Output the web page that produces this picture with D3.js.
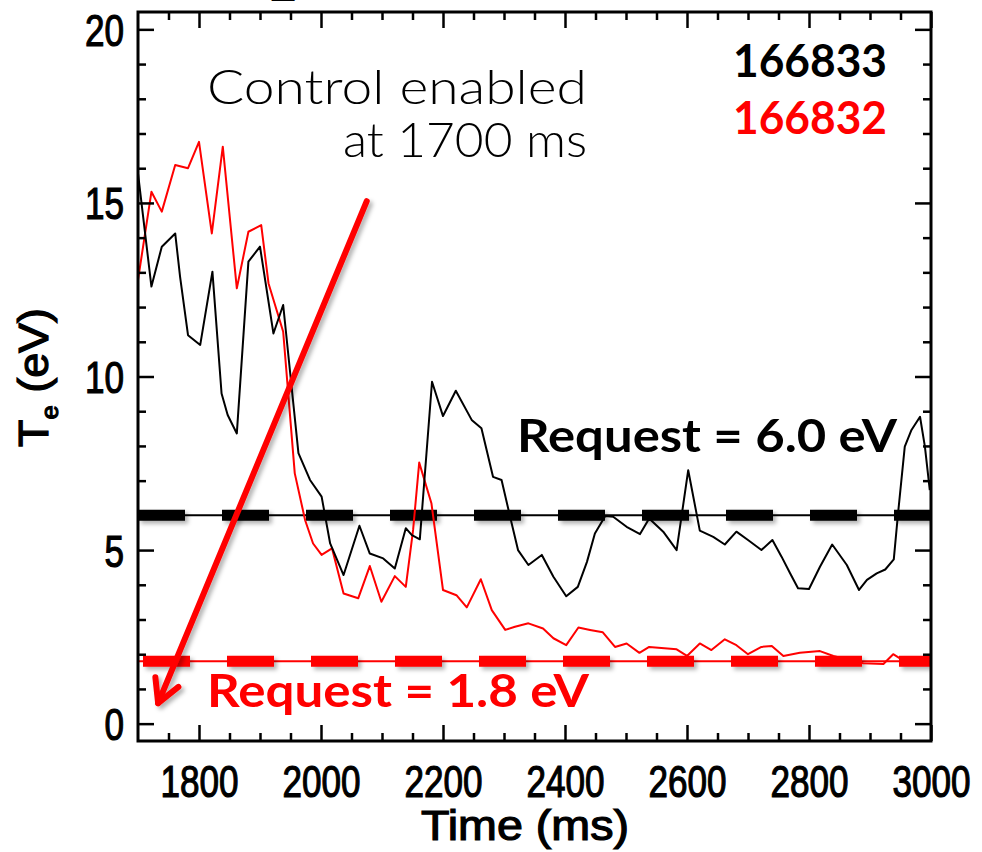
<!DOCTYPE html>
<html>
<head>
<meta charset="utf-8">
<script src="https://cdn.jsdelivr.net/npm/d3@7"></script>
<style>
  body { margin: 0; background: #fff; }
  svg { display: block; }
</style>
</head>
<body>
<svg id="chart" width="982" height="852"></svg>
<script>
// Te traces for the two shots (time in ms, Te in eV)
const shot166833 = [
  [1700, 15.85], [1722, 12.59], [1739, 13.74], [1761, 14.12], [1769, 12.87], [1782, 11.19],
  [1802, 10.91], [1822, 13.02], [1837, 9.51], [1847, 8.89], [1862, 8.36], [1881, 13.31],
  [1900, 13.74], [1922, 11.24], [1938, 12.06], [1963, 7.79], [1982, 7.02], [2001, 6.54],
  [2015, 5.19], [2037, 4.28], [2063, 5.70], [2080, 4.90], [2102, 4.76], [2121, 4.47],
  [2139, 5.63], [2149, 5.43], [2162, 5.31], [2182, 9.85], [2200, 8.86], [2221, 9.59],
  [2247, 8.75], [2263, 8.51], [2282, 7.11], [2296, 7.02], [2310, 5.96], [2323, 5.00],
  [2340, 4.57], [2362, 4.86], [2381, 4.23], [2402, 3.67], [2421, 3.94], [2436, 4.66],
  [2449, 5.48], [2466, 5.98], [2479, 5.96], [2501, 5.67], [2523, 5.46], [2538, 5.91],
  [2561, 5.53], [2583, 5.00], [2602, 7.30], [2621, 5.56], [2643, 5.38], [2662, 5.16],
  [2681, 5.53], [2700, 5.29], [2722, 5.00], [2740, 5.29], [2755, 4.81], [2769, 4.33],
  [2782, 3.90], [2800, 3.88], [2818, 4.52], [2838, 5.16], [2862, 4.57], [2882, 3.85],
  [2895, 4.14], [2911, 4.33], [2925, 4.44], [2939, 4.73], [2946, 6.06], [2957, 7.98],
  [2968, 8.46], [2982, 8.84], [2990, 7.98], [2998, 6.73]
];
const shot166832 = [
  [1700, 12.78], [1722, 15.32], [1739, 14.75], [1761, 16.09], [1782, 16.00], [1800, 16.76],
  [1821, 14.12], [1839, 16.62], [1862, 12.54], [1881, 14.17], [1902, 14.36], [1914, 12.68],
  [1938, 11.29], [1957, 7.21], [1974, 5.86], [1987, 5.19], [2001, 4.86], [2018, 5.05],
  [2037, 3.75], [2061, 3.61], [2080, 4.54], [2099, 3.51], [2121, 4.25], [2139, 3.94],
  [2151, 5.58], [2161, 7.52], [2181, 6.35], [2200, 3.85], [2222, 3.70], [2239, 3.35],
  [2262, 4.16], [2280, 3.27], [2302, 2.70], [2318, 2.79], [2340, 2.89], [2364, 2.74],
  [2381, 2.46], [2402, 2.26], [2422, 2.77], [2441, 2.70], [2462, 2.63], [2482, 2.21],
  [2501, 2.31], [2522, 2.04], [2538, 2.21], [2583, 2.14], [2600, 1.95], [2621, 2.31],
  [2640, 2.12], [2662, 2.43], [2681, 2.26], [2700, 2.00], [2722, 2.21], [2739, 2.24],
  [2758, 1.95], [2785, 2.04], [2818, 2.09], [2840, 1.95], [2867, 1.83], [2889, 1.74],
  [2922, 1.72], [2938, 2.00], [2949, 1.88], [3000, 1.83]
];
const requests = [
  {shot: "166833", value: 6.0, color: "#000", offset: 0},
  {shot: "166832", value: 1.8, color: "#ff0000", offset: 79}
];
const xTicks = [1800, 2000, 2200, 2400, 2600, 2800, 3000];
const yTicks = [0, 5, 10, 15, 20];
const arrowFrom = [2075, 15.05];
const arrowTo = [1733, 0.59];

const svg = d3.select("#chart");
const pLeft = 138, pRight = 931, pTop = 12, pBottom = 741;

const x = d3.scaleLinear().domain([1700, 3000]).range([pLeft, pRight]);
const y = d3.scaleLinear().domain([-0.5, 20.5]).range([pBottom, pTop]);

let defs = svg.append("defs");
defs.append("clipPath").attr("id", "plot")
    .append("rect").attr("x", pLeft).attr("y", pTop)
    .attr("width", pRight - pLeft).attr("height", pBottom - pTop);
defs.append("filter").attr("id", "shadow")
    .attr("filterUnits", "userSpaceOnUse")
    .attr("x", 0).attr("y", 0).attr("width", 982).attr("height", 852)
    .append("feDropShadow")
    .attr("dx", 3).attr("dy", 3).attr("stdDeviation", 2)
    .attr("flood-color", "#000").attr("flood-opacity", 0.3);

// clipped remnant of the title above the frame
svg.append("text").attr("x", 272).attr("y", -4)
    .attr("font-family", "'Liberation Sans', Arial, sans-serif")
    .attr("font-size", 40).attr("font-weight", "bold")
    .text("_");

let plot = svg.append("g").attr("clip-path", "url(#plot)");

// request levels: thin line plus heavy dashes
requests.forEach(r => {
    plot.append("line")
        .attr("x1", x(1700)).attr("x2", x(3000))
        .attr("y1", y(r.value)).attr("y2", y(r.value))
        .attr("stroke", r.color).attr("stroke-width", 2);
    plot.append("line")
        .attr("x1", x(1700)).attr("x2", x(3000) + 10)
        .attr("y1", y(r.value)).attr("y2", y(r.value))
        .attr("stroke", r.color).attr("stroke-width", 11)
        .attr("stroke-dasharray", "47 37")
        .attr("stroke-dashoffset", r.offset)
        .attr("filter", "url(#shadow)");
});

let line = d3.line().x(d => x(d[0])).y(d => y(d[1]));

plot.append("path").datum(shot166832)
    .attr("d", line).attr("fill", "none")
    .attr("stroke", "#ff0000").attr("stroke-width", 2).attr("stroke-linejoin", "round");
plot.append("path").datum(shot166833)
    .attr("d", line).attr("fill", "none")
    .attr("stroke", "#000").attr("stroke-width", 2).attr("stroke-linejoin", "round");

// arrow pointing at the 1.8 eV request
let ax0 = x(arrowFrom[0]), ay0 = y(arrowFrom[1]);
let ax1 = x(arrowTo[0]), ay1 = y(arrowTo[1]);
let ang = Math.atan2(ay1 - ay0, ax1 - ax0);
let head = 26, spread = 0.5;
let arrow = svg.append("g").attr("filter", "url(#shadow)")
    .attr("stroke", "#ff0000").attr("stroke-width", 6).attr("fill", "none")
    .attr("stroke-linecap", "round").attr("stroke-linejoin", "round");
arrow.append("line").attr("x1", ax0).attr("y1", ay0).attr("x2", ax1).attr("y2", ay1);
arrow.append("path").attr("d",
    "M" + (ax1 - head * Math.cos(ang - spread)) + "," + (ay1 - head * Math.sin(ang - spread)) +
    "L" + ax1 + "," + ay1 +
    "L" + (ax1 - head * Math.cos(ang + spread)) + "," + (ay1 - head * Math.sin(ang + spread)));

// axes: major and minor ticks on all four sides, pointing inwards
function drawAxis(axis, tx, ty) {
    let g = svg.append("g").attr("transform", "translate(" + tx + "," + ty + ")").call(axis);
    g.select(".domain").remove();
    g.selectAll(".tick line").attr("stroke", "#000").attr("stroke-width", 2.5);
    return g;
}
const xMinor = d3.range(1750, 3000, 50).filter(t => !xTicks.includes(t));
const yMinor = d3.range(0, 21, 1).filter(v => !yTicks.includes(v));
const fmt = d3.format("d");

let xb = drawAxis(d3.axisBottom(x).tickValues(xTicks).tickFormat(fmt).tickSizeInner(-16).tickSizeOuter(0), 0, pBottom);
drawAxis(d3.axisBottom(x).tickValues(xMinor).tickSizeInner(-8).tickSizeOuter(0).tickFormat(""), 0, pBottom);
drawAxis(d3.axisTop(x).tickValues(xTicks).tickSizeInner(-16).tickSizeOuter(0).tickFormat(""), 0, pTop);
drawAxis(d3.axisTop(x).tickValues(xMinor).tickSizeInner(-8).tickSizeOuter(0).tickFormat(""), 0, pTop);
let yl = drawAxis(d3.axisLeft(y).tickValues(yTicks).tickFormat(fmt).tickSizeInner(-16).tickSizeOuter(0), pLeft, 0);
drawAxis(d3.axisLeft(y).tickValues(yMinor).tickSizeInner(-8).tickSizeOuter(0).tickFormat(""), pLeft, 0);
drawAxis(d3.axisRight(y).tickValues(yTicks).tickSizeInner(-16).tickSizeOuter(0).tickFormat(""), pRight, 0);
drawAxis(d3.axisRight(y).tickValues(yMinor).tickSizeInner(-8).tickSizeOuter(0).tickFormat(""), pRight, 0);

// IDL-style labels: narrow Helvetica, slightly heavier than regular
const labelFont = "'Liberation Sans', Arial, sans-serif";
function labelStyle(sel, size) {
    sel.attr("font-family", labelFont).attr("font-size", size)
        .attr("fill", "#000").attr("stroke", "#000").attr("stroke-width", 1.2);
}
xb.selectAll(".tick text")
    .attr("y", 0).attr("dy", 0)
    .attr("transform", "translate(0,56) scale(0.78,1)")
    .attr("text-anchor", "middle")
    .call(labelStyle, 45);
yl.selectAll(".tick text")
    .attr("x", 0).attr("dy", 0)
    .attr("transform", "translate(-14,16) scale(0.78,1)")
    .attr("text-anchor", "end")
    .call(labelStyle, 45);

// frame
svg.append("rect")
    .attr("x", pLeft).attr("y", pTop).attr("width", pRight - pLeft).attr("height", pBottom - pTop)
    .attr("fill", "none").attr("stroke", "#000").attr("stroke-width", 3);

// axis titles
svg.append("text")
    .attr("x", 421).attr("y", 840)
    .attr("textLength", 208).attr("lengthAdjust", "spacingAndGlyphs")
    .call(labelStyle, 42)
    .text("Time (ms)");

let yt = svg.append("text")
    .attr("transform", "translate(48,447) rotate(-90)")
    .attr("textLength", 139).attr("lengthAdjust", "spacingAndGlyphs")
    .call(labelStyle, 42);
yt.append("tspan").text("T");
yt.append("tspan").attr("font-size", 24).attr("dy", 10).text("e");
yt.append("tspan").attr("dy", -10).text(" (eV)");

// annotations
const annoFont = "Lato, 'Open Sans', sans-serif";
svg.append("text").attr("x", 207).attr("y", 104)
    .attr("font-family", annoFont)
    .attr("font-weight", 300).attr("font-size", 48)
    .attr("textLength", 380).attr("lengthAdjust", "spacingAndGlyphs")
    .text("Control enabled");
svg.append("text").attr("x", 343).attr("y", 157)
    .attr("font-family", annoFont)
    .attr("font-weight", 300).attr("font-size", 48)
    .attr("textLength", 244).attr("lengthAdjust", "spacingAndGlyphs")
    .text("at 1700 ms");

svg.selectAll(".shot").data(requests).enter()
    .append("text").attr("class", "shot")
    .attr("x", 733).attr("y", (d, i) => 77 + i * 57)
    .attr("font-family", annoFont)
    .attr("font-weight", "bold").attr("font-size", 46)
    .attr("textLength", 154).attr("lengthAdjust", "spacingAndGlyphs")
    .attr("fill", d => d.color)
    .text(d => d.shot);

svg.append("text").attr("x", 517).attr("y", 452)
    .attr("font-family", annoFont).attr("font-weight", "bold").attr("font-size", 46)
    .attr("textLength", 380).attr("lengthAdjust", "spacingAndGlyphs")
    .attr("fill", "#000")
    .text("Request = " + requests[0].value.toFixed(1) + " eV");
svg.append("text").attr("x", 207).attr("y", 707)
    .attr("font-family", annoFont).attr("font-weight", "bold").attr("font-size", 46)
    .attr("textLength", 382).attr("lengthAdjust", "spacingAndGlyphs")
    .attr("fill", "#ff0000")
    .text("Request = " + requests[1].value.toFixed(1) + " eV");
</script>
</body>
</html>
